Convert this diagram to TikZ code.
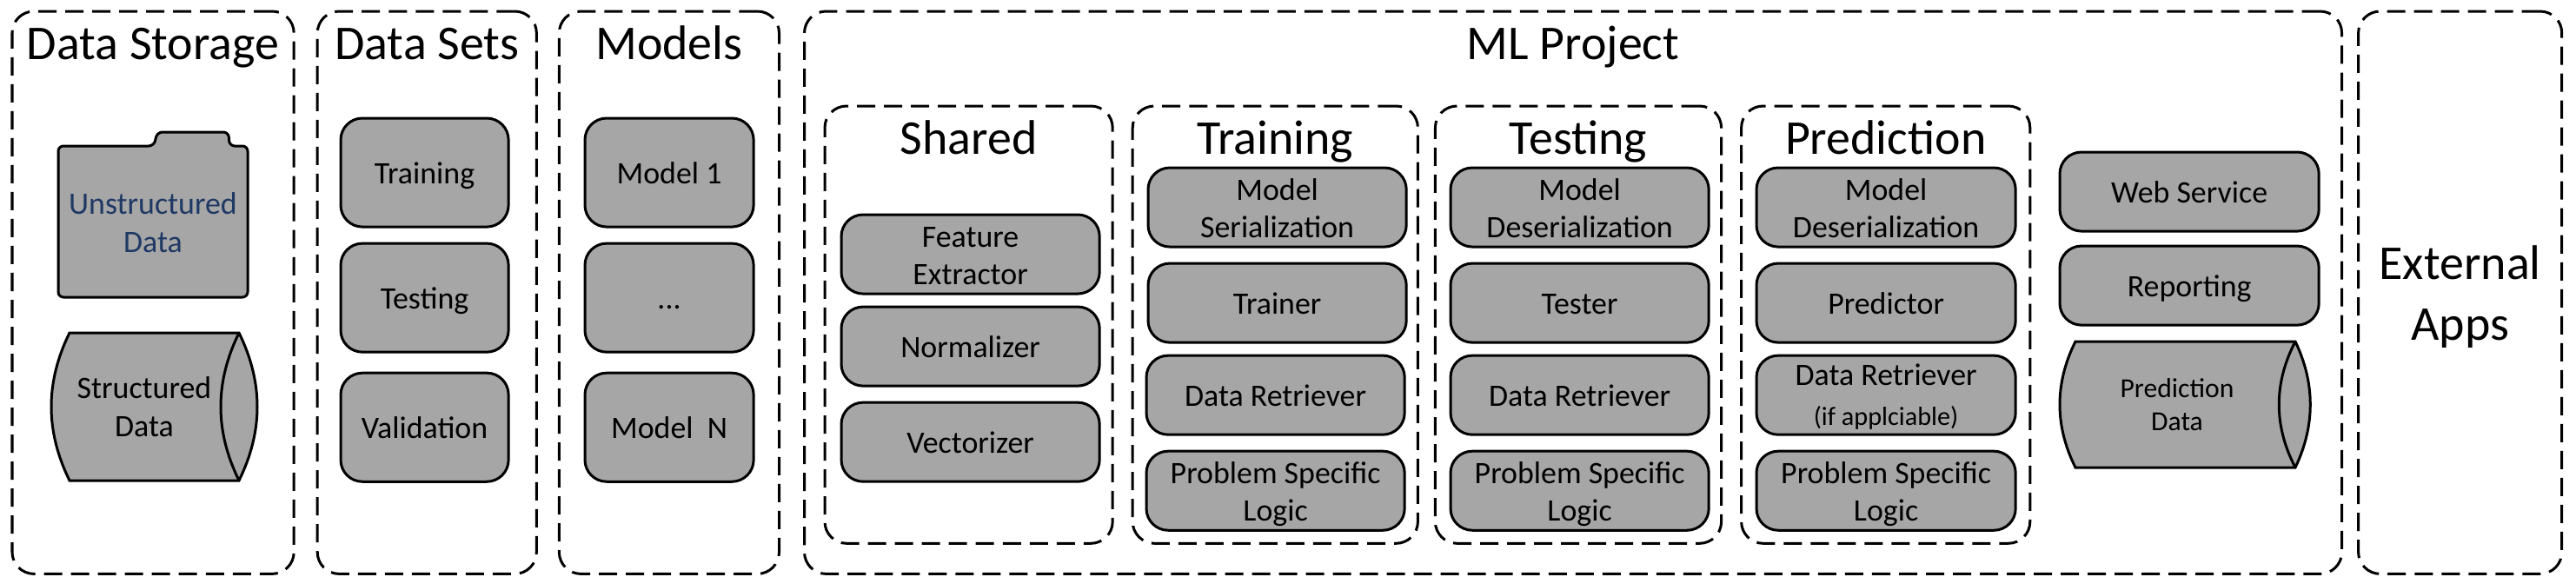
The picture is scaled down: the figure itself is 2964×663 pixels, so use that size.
\documentclass[tikz,border=0pt]{standalone}
\usepackage{fontspec}
\usepackage{xcolor}
\usepackage{tikz}
\usetikzlibrary{positioning}
\setmainfont{Carlito}
\definecolor{boxgray}{RGB}{166,166,166}
\definecolor{folderblue}{RGB}{31,56,100}

\begin{document}
\begin{tikzpicture}[
    x=0.01cm, y=-0.01cm,
    group/.style={rectangle, draw, line width=0.03cm, dash pattern=on 0.21cm off 0.10cm,
                rounded corners=0.25cm, inner sep=0pt, outer sep=0pt, minimum width=#1,
                font=\fontsize{15.9}{19.8}\selectfont, align=center},
    topgroup/.style={group=#1, minimum height=6.47cm},
    subgroup/.style={group=#1, minimum height=5.03cm},
    grouptitle/.style={inner sep=0pt, text height=0.39cm, text depth=0.1cm,
                font=\fontsize{15.9}{19.8}\selectfont},
    box/.style={rectangle, draw, fill=boxgray, line width=0.03cm, rounded corners=0.25cm,
                inner sep=0pt, outer sep=0pt, minimum width=#1, minimum height=0.91cm,
                font=\fontsize{10.2}{12.2}\selectfont, align=center,
                execute at begin node={\rule{0pt}{9.8pt}},
                execute at end node={\rule[-2.4pt]{0pt}{2.4pt}}},
    tallbox/.style={box=#1, minimum height=1.25cm},
    twoline/.style={box=#1, execute at begin node={\rule{0pt}{22pt}}},
    outline/.style={draw, fill=boxgray, line width=0.03cm, line join=miter},
    shapetext/.style={inner sep=0pt, font=\fontsize{10.2}{12.4}\selectfont, align=center}
]
    \useasboundingbox (0,0) rectangle (2964,663);

    \node[topgroup=3.24cm, anchor=north west] (storage) at (14,13) {};
    \node[topgroup=2.52cm, right=0.27cm of storage] (sets) {};
    \node[topgroup=2.53cm, right=0.26cm of sets] (models) {};
    \node[topgroup=17.68cm, right=0.29cm of models] (project) {};
    \node[topgroup=2.34cm, right=0.19cm of project, execute at begin node={\rule{0pt}{33.6pt}}] (external) {External\\Apps};

    \node[subgroup=3.31cm, anchor=north west] (shared) at (949,122) {};
    \node[subgroup=3.28cm, right=0.23cm of shared] (training) {};
    \node[subgroup=3.29cm, right=0.20cm of training] (testing) {};
    \node[subgroup=3.32cm, right=0.23cm of testing] (prediction) {};

    \node[grouptitle, below=0.16cm of storage.north] (storagetitle) {Data Storage};
    \node[grouptitle, below=0.16cm of sets.north] (setstitle) {Data Sets};
    \node[grouptitle, below=0.16cm of models.north] (modelstitle) {Models};
    \node[grouptitle, below=0.16cm of project.north] (projecttitle) {ML Project};
    \node[grouptitle, below=0.16cm of shared.north] (sharedtitle) {Shared};
    \node[grouptitle, below=0.16cm of training.north] (trainingtitle) {Training};
    \node[grouptitle, below=0.16cm of testing.north] (testingtitle) {Testing};
    \node[grouptitle, below=0.16cm of prediction.north] (predictiontitle) {Prediction};

    \draw[outline, rounded corners=0.06cm] (177,168) -- (181,152) -- (263,152) -- (264,168)
        -- (285,168) -- (285,342) -- (67,342) -- (67,168) -- cycle;
    \node[shapetext, text=folderblue] (unstructured) at (176,256) {Unstructured\\Data};

    \draw[outline] (80,383) -- (275,383) .. controls (303,440) and (303,496) .. (275,553)
        -- (80,553) .. controls (52,496) and (52,440) .. (80,383) -- cycle;
    \draw[outline, fill=none] (275,383) .. controls (247,440) and (247,496) .. (275,553);
    \node[shapetext] (structured) at (166,468) {Structured\\Data};

    \node[tallbox=1.93cm, anchor=north west] (settraining) at (392,136) {Training};
    \node[tallbox=1.93cm, below=0.19cm of settraining] (settesting) {Testing};
    \node[tallbox=1.93cm, below=0.24cm of settesting] (setvalidation) {Validation};

    \node[tallbox=1.94cm, anchor=north west] (modelone) at (673,136) {Model 1};
    \node[tallbox=1.94cm, below=0.19cm of modelone] (modeldots) {...};
    \node[tallbox=1.94cm, below=0.24cm of modeldots] (modeln) {Model\ \ N};

    \node[twoline=2.97cm, anchor=north west] (extractor) at (968,247) {Feature\\Extractor};
    \node[box=2.97cm, below=0.15cm of extractor] (normalizer) {Normalizer};
    \node[box=2.97cm, below=0.19cm of normalizer] (vectorizer) {Vectorizer};

    \node[twoline=2.97cm, anchor=north west] (serialization) at (1321,193) {Model\\Serialization};
    \node[box=2.97cm, below=0.19cm of serialization] (trainer) {Trainer};
    \node[box=2.97cm, below=0.15cm of trainer, xshift=-0.02cm] (trainretriever) {Data Retriever};
    \node[twoline=2.97cm, below=0.19cm of trainretriever] (trainlogic) {Problem Specific\\Logic};

    \node[twoline=2.97cm, anchor=north west] (testdeserial) at (1669,193) {Model\\Deserialization};
    \node[box=2.97cm, below=0.19cm of testdeserial] (tester) {Tester};
    \node[box=2.97cm, below=0.15cm of tester] (testretriever) {Data Retriever};
    \node[twoline=2.97cm, below=0.19cm of testretriever] (testlogic) {Problem Specific\\Logic};

    \node[twoline=2.98cm, anchor=north west] (preddeserial) at (2021,193) {Model\\Deserialization};
    \node[box=2.98cm, below=0.19cm of preddeserial] (predictor) {Predictor};
    \node[twoline=2.98cm, below=0.15cm of predictor] (predretriever) {Data Retriever\\[0.8pt]{\fontsize{8.6}{10}\selectfont (if applciable)}};
    \node[twoline=2.98cm, below=0.19cm of predretriever] (predlogic) {Problem Specific\\Logic};

    \node[box=2.98cm, anchor=north west] (webservice) at (2370,175) {Web Service};
    \node[box=2.98cm, below=0.17cm of webservice] (reporting) {Reporting};

    \draw[outline] (2388,393) -- (2641,393) .. controls (2664,441) and (2664,490) .. (2641,538)
        -- (2388,538) .. controls (2364,490) and (2364,441) .. (2388,393) -- cycle;
    \draw[outline, fill=none] (2641,393) .. controls (2616,441) and (2616,490) .. (2641,538);
    \node[shapetext, font=\fontsize{9}{10.8}\selectfont] (predictiondata) at (2505,466) {Prediction\\Data};
\end{tikzpicture}
\end{document}
